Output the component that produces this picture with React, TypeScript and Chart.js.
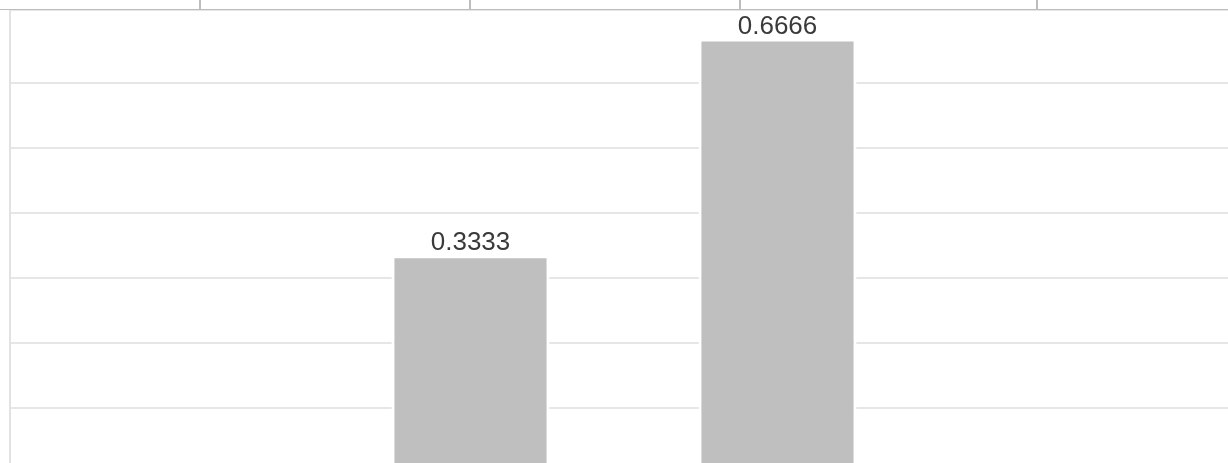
import React, { useEffect, useRef } from "react";
import { Chart, registerables } from "chart.js";

Chart.register(...registerables);

const categories = ["A", "B", "C", "D"];
const values: (number | null)[] = [null, 0.3333, 0.6666, null];
const yMin = 0;
const yMax = 0.712;
const yStep = 0.1;
const topTickX = [200, 470, 740, 1037];

const labelPlugin = {
  id: "barLabels",
  afterDatasetsDraw(chart: any) {
    const ctx = chart.ctx;
    const meta = chart.getDatasetMeta(0);
    ctx.save();
    ctx.font = '26px "Liberation Sans", Arial, sans-serif';
    ctx.fillStyle = "#3a3a3a";
    ctx.textAlign = "center";
    ctx.textBaseline = "alphabetic";
    meta.data.forEach((bar: any, i: number) => {
      const v = values[i];
      if (v === null || v === undefined) return;
      ctx.fillText(String(v), bar.x, bar.y - 6);
    });
    ctx.restore();
  },
};

export default function App() {
  const ref = useRef<HTMLCanvasElement>(null);
  useEffect(() => {
    if (!ref.current) return;
    const chart = new Chart(ref.current, {
      type: "bar",
      data: {
        labels: categories,
        datasets: [
          {
            data: values,
            backgroundColor: "#bfbfbf",
            borderColor: "#ffffff",
            borderWidth: { top: 2, left: 3, right: 3, bottom: 0 },
            borderSkipped: "start",
            barPercentage: 0.515,
            categoryPercentage: 1,
          },
        ],
      },
      options: {
        responsive: false,
        animation: false,
        devicePixelRatio: 1,
        layout: { padding: { top: 10, left: 10, right: 0, bottom: 0 } },
        plugins: { legend: { display: false }, tooltip: { enabled: false } },
        scales: {
          x: { display: false },
          y: {
            min: yMin,
            max: yMax,
            ticks: { display: false, stepSize: yStep },
            grid: { color: "#e6e6e6", lineWidth: 2, drawTicks: false },
            border: { display: true, color: "#e2e2e2", width: 2 },
          },
        },
      },
      plugins: [labelPlugin],
    });
    return () => chart.destroy();
  }, []);

  return (
    <div
      style={{
        position: "fixed",
        left: 0,
        top: 0,
        width: 1228,
        height: 463,
        overflow: "hidden",
        background: "#ffffff",
      }}
    >
      <canvas
        ref={ref}
        width={1238}
        height={473}
        style={{ position: "absolute", left: 0, top: 0, width: 1238, height: 473 }}
      />
      <div
        style={{
          position: "absolute",
          left: 0,
          top: 9,
          width: 1228,
          height: 1,
          background: "#bdbdbd",
        }}
      />
      {topTickX.map((x) => (
        <div
          key={x}
          style={{
            position: "absolute",
            left: x - 1,
            top: 0,
            width: 2,
            height: 9,
            background: "#bdbdbd",
          }}
        />
      ))}
    </div>
  );
}
